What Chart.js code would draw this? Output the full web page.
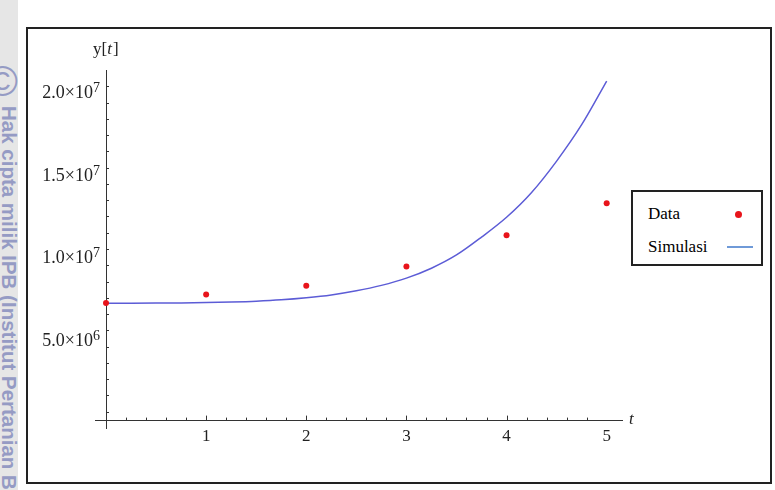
<!DOCTYPE html>
<html>
<head>
<meta charset="utf-8">
<script src="https://cdn.jsdelivr.net/npm/chart.js@4.4.1/dist/chart.umd.min.js"></script>
<style>
body { margin: 0; background: #fff; }
#wrap { position: relative; width: 775px; height: 490px; overflow: hidden; }
#strip { position: absolute; left: 0; top: 0; width: 18px; height: 490px; background: #e6e6e6; overflow: hidden; }
#strip .c { position: absolute; left: -19px; top: 58px; font-family: "Liberation Sans"; font-size: 42px; color: #959bc4; writing-mode: vertical-rl; line-height: 42px; }
#strip .t { position: absolute; left: -1px; top: 106px; font-family: "Liberation Sans"; font-weight: bold; font-size: 20.5px; color: #959bc4; writing-mode: vertical-rl; white-space: nowrap; line-height: 20px; }
#frame { position: absolute; left: 26px; top: 27px; width: 746px; height: 457px; box-sizing: border-box; border: 2px solid #222; }
#legend { position: absolute; left: 631px; top: 190px; width: 132px; height: 76px; box-sizing: border-box; border: 2px solid #222; background: #fff; font-family: "Liberation Serif"; font-size: 17px; color: #000; }
#legend .row { position: absolute; left: 15px; height: 20px; line-height: 20px; }
#legend .dot { position: absolute; width: 7px; height: 7px; border-radius: 50%; }
#legend .ln { position: absolute; width: 26px; height: 2px; }
canvas { position: absolute; left: 0; top: 0; }
</style>
</head>
<body>
<div id="wrap">
  <canvas id="chart" width="775" height="490"></canvas>
  <div id="frame"></div>
  <div id="strip"><span class="c">©</span><span class="t">Hak cipta milik IPB (Institut Pertanian Bogor)</span></div>
  <div id="legend"></div>
</div>
<script>
// data points (t, y)
const tData = [0, 1, 2, 3, 4, 5];
const yData = [7.11e6, 7.63e6, 8.16e6, 9.32e6, 11.21e6, 13.15e6];

// simulation curve
const tSim = [0, 0.25, 0.5, 0.75, 1, 1.25, 1.5, 1.75, 2, 2.25, 2.5, 2.75, 3, 3.25, 3.5, 3.75, 4, 4.25, 4.5, 4.75, 5];
const ySim = [7.100e6, 7.102e6, 7.108e6, 7.120e6, 7.140e6, 7.175e6, 7.225e6, 7.305e6, 7.430e6, 7.600e6, 7.850e6,
              8.180e6, 8.620e6, 9.220e6, 10.020e6, 11.100e6, 12.300e6, 13.800e6, 15.700e6, 17.900e6, 20.540e6];

// tick labels
const xTicks = [1, 2, 3, 4, 5];
const yTicks = [5e6, 1e7, 1.5e7, 2e7];
const yTickLabels = ['5.0×10^6', '1.0×10^7', '1.5×10^7', '2.0×10^7'];

const serif = '"Liberation Serif", "Times New Roman", serif';

const axesPlugin = {
  id: 'mmaAxes',
  afterDraw(chart) {
    const ctx = chart.ctx;
    const x = chart.scales.x, y = chart.scales.y;
    const x0 = x.getPixelForValue(0), y0 = y.getPixelForValue(0);
    ctx.save();
    ctx.strokeStyle = '#333';
    ctx.lineWidth = 1;
    ctx.beginPath();
    x.ticks.forEach(t => {
      if (t.value <= 0.01 || t.value > 5.01) return;
      const major = Math.abs(t.value - Math.round(t.value)) < 1e-6;
      const px = Math.round(x.getPixelForValue(t.value)) + 0.5;
      ctx.moveTo(px, y0);
      ctx.lineTo(px, y0 - (major ? 5 : 3));
    });
    y.ticks.forEach(t => {
      if (t.value <= 1 || t.value > 2.1e7) return;
      const major = t.value % 5e6 === 0;
      const py = Math.round(y.getPixelForValue(t.value)) + 0.5;
      ctx.moveTo(x0, py);
      ctx.lineTo(x0 + (major ? 5 : 3), py);
    });
    ctx.stroke();

    ctx.fillStyle = '#222';
    ctx.font = '17px ' + serif;
    ctx.textAlign = 'center';
    ctx.textBaseline = 'alphabetic';
    xTicks.forEach(v => {
      ctx.fillText(String(v), x.getPixelForValue(v), y0 + 20);
    });

    yTicks.forEach((v, i) => {
      const [m, e] = yTickLabels[i].split('^');
      const py = y.getPixelForValue(v);
      ctx.font = '14px ' + serif;
      const ew = ctx.measureText(e).width;
      const right = x0 - 6;
      ctx.textAlign = 'right';
      ctx.fillText(e, right, py + 2);
      ctx.font = '18px ' + serif;
      ctx.fillText(m, right - ew, py + 8);
    });

    // axis names
    ctx.textAlign = 'left';
    ctx.font = 'italic 17px ' + serif;
    ctx.fillText('t', x.right + 7, y0 + 3);
    ctx.font = '17px ' + serif;
    let lx = x0 - 13;
    ctx.fillText('y[', lx, 54);
    lx += ctx.measureText('y[').width;
    ctx.font = 'italic 17px ' + serif;
    ctx.fillText('t', lx, 54);
    lx += ctx.measureText('t').width + 1;
    ctx.font = '17px ' + serif;
    ctx.fillText(']', lx, 54);
    ctx.restore();
  }
};

const chart = new Chart(document.getElementById('chart').getContext('2d'), {
  type: 'scatter',
  data: {
    datasets: [
      {
        label: 'Data',
        data: tData.map((t, i) => ({x: t, y: yData[i]})),
        backgroundColor: '#e8141b',
        borderColor: '#e8141b',
        pointRadius: 3,
        pointBorderWidth: 0,
        showLine: false
      },
      {
        label: 'Simulasi',
        data: tSim.map((t, i) => ({x: t, y: ySim[i]})),
        borderColor: '#5c5cd6',
        legendColor: '#6f9ad8',
        borderWidth: 1.5,
        pointRadius: 0,
        showLine: true,
        cubicInterpolationMode: 'monotone'
      }
    ]
  },
  options: {
    responsive: false,
    animation: false,
    layout: { padding: { left: 95, right: 153, top: 70, bottom: 62 } },
    plugins: { legend: { display: false }, tooltip: { enabled: false } },
    scales: {
      x: {
        type: 'linear',
        min: -0.11,
        max: 5.153,
        position: { y: 0 },
        ticks: { display: false, stepSize: 0.2 },
        grid: { display: true, drawOnChartArea: false, drawTicks: false },
        border: { display: true, color: '#333', width: 1 }
      },
      y: {
        type: 'linear',
        min: -0.447e6,
        max: 21.21e6,
        position: { x: 0 },
        ticks: { display: false, stepSize: 1e6 },
        grid: { display: true, drawOnChartArea: false, drawTicks: false },
        border: { display: true, color: '#333', width: 1 }
      }
    }
  },
  plugins: [axesPlugin]
});

// legend built from the datasets
const legend = document.getElementById('legend');
chart.data.datasets.forEach((ds, i) => {
  const cy = 22 + i * 33;
  const row = document.createElement('div');
  row.className = 'row';
  row.style.top = (cy - 10) + 'px';
  row.textContent = ds.label;
  legend.appendChild(row);
  const mk = document.createElement('div');
  if (ds.showLine) {
    mk.className = 'ln';
    mk.style.left = '94px';
    mk.style.top = (cy - 1) + 'px';
    mk.style.background = ds.legendColor;
  } else {
    mk.className = 'dot';
    mk.style.left = '102px';
    mk.style.top = (cy - 3.5) + 'px';
    mk.style.background = ds.backgroundColor;
  }
  legend.appendChild(mk);
});
</script>
</body>
</html>
